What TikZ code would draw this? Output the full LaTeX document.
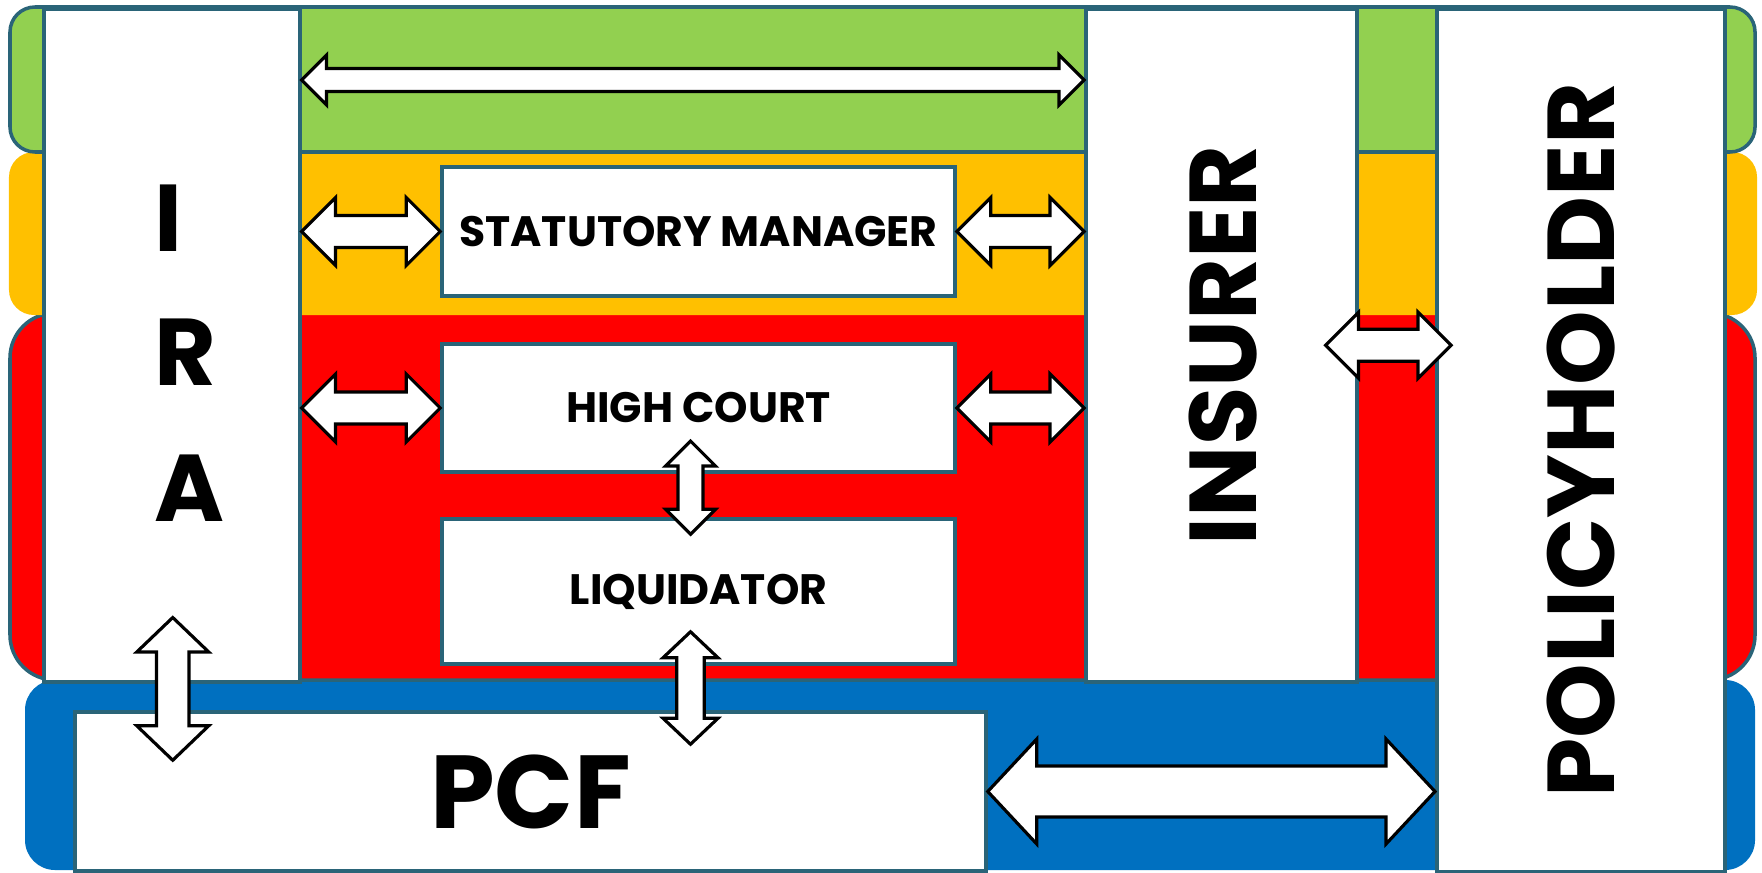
\documentclass[tikz,border=0pt]{standalone}
\usepackage{fontspec}
\setmainfont{Poppins}
\usetikzlibrary{calc}

\definecolor{edge}{HTML}{2A6478}
\definecolor{bandgreen}{HTML}{92D050}
\definecolor{bandyellow}{HTML}{FFC000}
\definecolor{bandred}{HTML}{FF0000}
\definecolor{bandblue}{HTML}{0070C0}

\newcommand{\boxtext}{\fontsize{12.1}{15}\selectfont\bfseries}
\newcommand{\tallfont}{\fontsize{27}{32}\selectfont\bfseries}
\newcommand{\pcftext}{\fontsize{29.5}{36}\selectfont\bfseries}

% block arrow with two heads: tips #1 and #2, shaft half width #3, head half width #4, head length #5
\newcommand{\linkarrow}[5]{
    \coordinate (la) at ($(#1)!#5!(#2)$);
    \coordinate (lb) at ($(#2)!#5!(#1)$);
    \draw[twoway] (#1) -- ($(la)!#4!90:(#2)$) -- ($(la)!#3!90:(#2)$)
        -- ($(lb)!#3!-90:(#1)$) -- ($(lb)!#4!-90:(#1)$) -- (#2)
        -- ($(lb)!#4!90:(#1)$) -- ($(lb)!#3!90:(#1)$)
        -- ($(la)!#3!-90:(#2)$) -- ($(la)!#4!-90:(#2)$) -- cycle;
}

\begin{document}
\begin{tikzpicture}[x=1cm,y=-1cm]
        \tikzstyle{col}=[draw=edge, fill=white, line width=1pt, anchor=north west, inner sep=0pt]
        \tikzstyle{box}=[draw=edge, fill=white, line width=1pt, inner sep=1pt, minimum width=5.13cm, font=\boxtext]
        \tikzstyle{tall}=[font=\tallfont, inner sep=0pt]
        \tikzstyle{twoway}=[draw=black, fill=white, line width=0.9pt, line join=miter]

        \useasboundingbox (0,0) rectangle (17.62,8.72);

        % colour bands
        \fill[bandblue, rounded corners=0.3cm] (0.25,6.80) rectangle (17.55,8.70);
        \filldraw[fill=bandred, draw=edge, line width=1pt, rounded corners=0.45cm] (0.10,3.13) rectangle (17.55,6.80);
        \fill[bandyellow, rounded corners=0.25cm] (0.09,1.52) rectangle (17.57,3.15);
        \filldraw[fill=bandgreen, draw=edge, line width=1pt, rounded corners=0.25cm] (0.10,0.07) rectangle (17.55,1.52);

        % columns
        \node[col, minimum width=2.56cm, minimum height=6.73cm] (ira) at (0.42,0.07) {};
        \node[col, minimum width=2.71cm, minimum height=6.73cm] (insurer) at (10.84,0.07) {};
        \node[col, minimum width=2.88cm, minimum height=8.63cm] (policy) at (14.35,0.07) {};

        \foreach \ch/\y in {I/2.18,R/3.52,A/4.88}
            \node[tall, anchor=west] (ira-\ch) at (1.54,\y) {\ch};
        \node[tall, rotate=90] (insurer-txt) at ($(insurer.center)+(0.02,0)$) {INSURER};
        \node[tall, rotate=90] (policy-txt) at (policy.center) {POLICYHOLDER};

        % boxes
        \node[box, minimum height=1.29cm] (sm) at (6.985,2.315) {STATUTORY MANAGER};
        \node[box, minimum height=1.275cm] (hc) at (6.985,4.08) {HIGH COURT};
        \node[box, minimum height=1.45cm] (lq) at (6.985,5.915) {LIQUIDATOR};
        \node[box, minimum width=9.11cm, minimum height=1.59cm, font=\pcftext] (pcf) at (5.305,7.915) {PCF};

        % arrows
        \coordinate (g-l) at ($(ira.north east)+(0,0.73)$);
        \coordinate (g-r) at ($(insurer.north west)+(0,0.73)$);
        \linkarrow{g-l}{g-r}{0.115cm}{0.25cm}{0.25cm}

        \coordinate (sm-l) at (ira.east |- sm.west);
        \coordinate (sm-r) at (insurer.west |- sm.east);
        \linkarrow{sm-l}{sm.west}{0.16cm}{0.34cm}{0.34cm}
        \linkarrow{sm.east}{sm-r}{0.16cm}{0.34cm}{0.34cm}

        \coordinate (hc-l) at (ira.east |- hc.west);
        \coordinate (hc-r) at (insurer.west |- hc.east);
        \linkarrow{hc-l}{hc.west}{0.16cm}{0.34cm}{0.34cm}
        \linkarrow{hc.east}{hc-r}{0.16cm}{0.34cm}{0.34cm}

        \coordinate (hc-d) at ($(hc.south)+(-0.08,-0.325)$);
        \coordinate (lq-u) at ($(lq.north)+(-0.08,0.17)$);
        \linkarrow{hc-d}{lq-u}{0.125cm}{0.25cm}{0.25cm}

        \coordinate (lq-d) at ($(lq.south)+(-0.08,-0.34)$);
        \coordinate (pcf-u) at ($(pcf.north -| lq.south)+(-0.08,0.34)$);
        \linkarrow{lq-d}{pcf-u}{0.137cm}{0.275cm}{0.26cm}

        \coordinate (ira-d) at ($(ira.south)+(0.01,-0.66)$);
        \coordinate (pcf-l) at ($(ira.south |- pcf.north)+(0.01,0.50)$);
        \linkarrow{ira-d}{pcf-l}{0.163cm}{0.36cm}{0.345cm}

        \coordinate (ins-r) at ($(insurer.east)+(-0.33,0)$);
        \coordinate (pol-l) at ($(insurer.east -| policy.west)+(0.16,0)$);
        \linkarrow{ins-r}{pol-l}{0.16cm}{0.33cm}{0.33cm}

        \coordinate (pol-b) at (policy.west |- pcf.east);
        \linkarrow{pcf.east}{pol-b}{0.255cm}{0.525cm}{0.49cm}
\end{tikzpicture}
\end{document}
